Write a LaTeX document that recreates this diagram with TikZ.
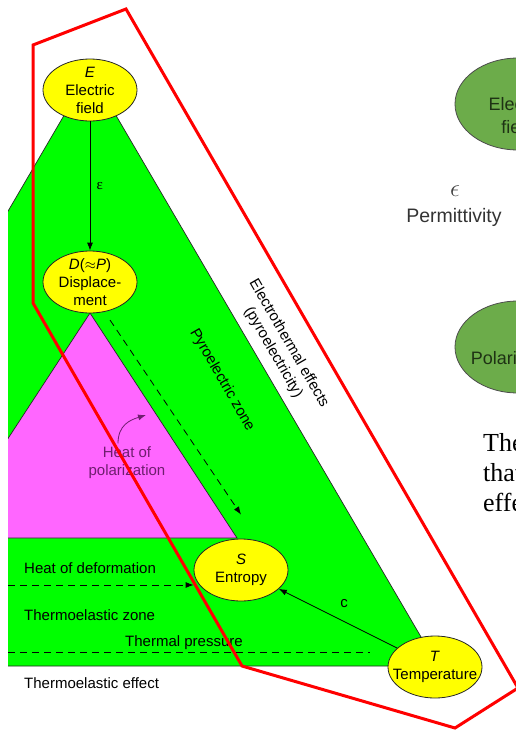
\documentclass[tikz,border=0pt]{standalone}
\usepackage{fontspec}
\setmainfont{Liberation Sans}
\newfontfamily\bodyserif{Liberation Serif}
\usetikzlibrary{shapes.geometric,arrows.meta}

\definecolor{zonegreen}{RGB}{0,255,0}
\definecolor{polmagenta}{RGB}{255,102,255}
\definecolor{nodeyellow}{RGB}{255,255,0}
\definecolor{leafgreen}{RGB}{108,172,74}
\definecolor{leafink}{RGB}{30,50,20}
\definecolor{heatpurple}{RGB}{110,30,110}

\tikzset{
  rim/.style={draw=black!85, line width=0.7pt},
  quantity/.style={ellipse, draw=black!85, line width=0.8pt, fill=nodeyellow,
    minimum width=94pt, minimum height=62pt, inner sep=0pt},
  qtext/.style={align=center},
  leaf/.style={ellipse, draw=black!70, line width=0.8pt, fill=leafgreen,
    minimum width=126pt, minimum height=92pt, inner sep=0pt},
  leaftext/.style={align=center, text=leafink, font=\fontsize{18}{23}\selectfont},
  zonetext/.style={anchor=west, inner sep=0pt},
  dashline/.style={line width=0.8pt, dash pattern=on 7pt off 5pt},
}

\begin{document}
\begin{tikzpicture}[x=1pt,y=-1pt,>={Latex[length=8pt,width=6pt]},
  font=\fontsize{15}{18}\selectfont]
\useasboundingbox (0,0) rectangle (515,731);

% the two zones, cut at the left margin
\begin{scope}
\clip (8,0) rectangle (515,731);
\filldraw[fill=zonegreen, rim] (90,71) -- (438,666) -- (-258,666) -- cycle;
\filldraw[fill=polmagenta, rim] (90,313) -- (237,538) -- (-57,538) -- cycle;
\end{scope}

% state variables
\node[quantity, label={[qtext]center:{\textit{E}\\Electric\\field}}] (E) at (90,90) {};
\node[quantity, label={[qtext]center:{\textit{D}(${\approx}$\textit{P})\\Displace-\\ment}}] (D) at (90,282) {};
\node[quantity, label={[qtext]center:{\textit{S}\\Entropy}}] (S) at (241,570) {};
\node[quantity, label={[qtext]center:{\textit{T}\\Temperature}}] (T) at (435,667) {};

% zone labels
\node[rotate=-60] (pyrozone) at (222,380) {Pyroelectric zone};
\node[rotate=-60, align=center] (electrotherm) at (281,348) {Electrothermal effects\\(pyroelectricity)};
\node[align=center, text=heatpurple] (heatpol) at (127,463) {Heat of\\polarization};
\node[zonetext] (deflabel) at (24,568) {Heat of deformation};
\node[zonetext] (thzone) at (24,615) {Thermoelastic zone};
\node[zonetext] (thpress) at (125,643) {Thermal pressure};
\node[zonetext] (theffect) at (24,683) {Thermoelastic effect};

% couplings
\coordinate (pyroA) at (110,320);
\coordinate (deform) at (8,585);
\coordinate (pressL) at (8,652);

\draw[line width=0.8pt, ->] (E) -- (D) node[midway, right=3pt] {\bodyserif ε};
\draw[line width=0.8pt, ->] (T) -- (S) node[midway, above=7pt, xshift=6pt] {c};
\draw[dashline, ->] (pyroA) -- ([yshift=24pt]S.north);
\draw[dashline, ->] (deform) -- (deform -| S.west);
\draw[dashline, shorten >=18pt] (pressL) -- (pressL -| T.west);
\draw[heatpurple, line width=0.8pt, ->] ([xshift=-9pt]heatpol.north)
  .. controls (118,425) and (130,420) .. (146,415);

% neighbouring figure and text
\node[leaf, label={[leaftext, yshift=-12pt]center:{Electric\\field}}] (field2) at (518,104) {};
\node[leaf, label={[leaftext, yshift=-11pt]center:{Polarization}}] (polar2) at (518,347) {};
\node[text=black!75, font=\fontsize{26}{28}\selectfont] (permsym) at (455,191) {$\epsilon$};
\node[text=black!80, font=\fontsize{19.5}{23}\selectfont] (perm) at (454,217) {Permittivity};
\node[anchor=north west, inner sep=0pt, align=left,
  font=\bodyserif\fontsize{26}{30}\selectfont] (para) at (483,433) {The\\that\\effect};

% outline
\draw[red, line width=3pt] (33,45) -- (126,9) -- (518,688) -- (455,728)
  -- (242,666) -- (33,303) -- cycle;
\end{tikzpicture}
\end{document}
